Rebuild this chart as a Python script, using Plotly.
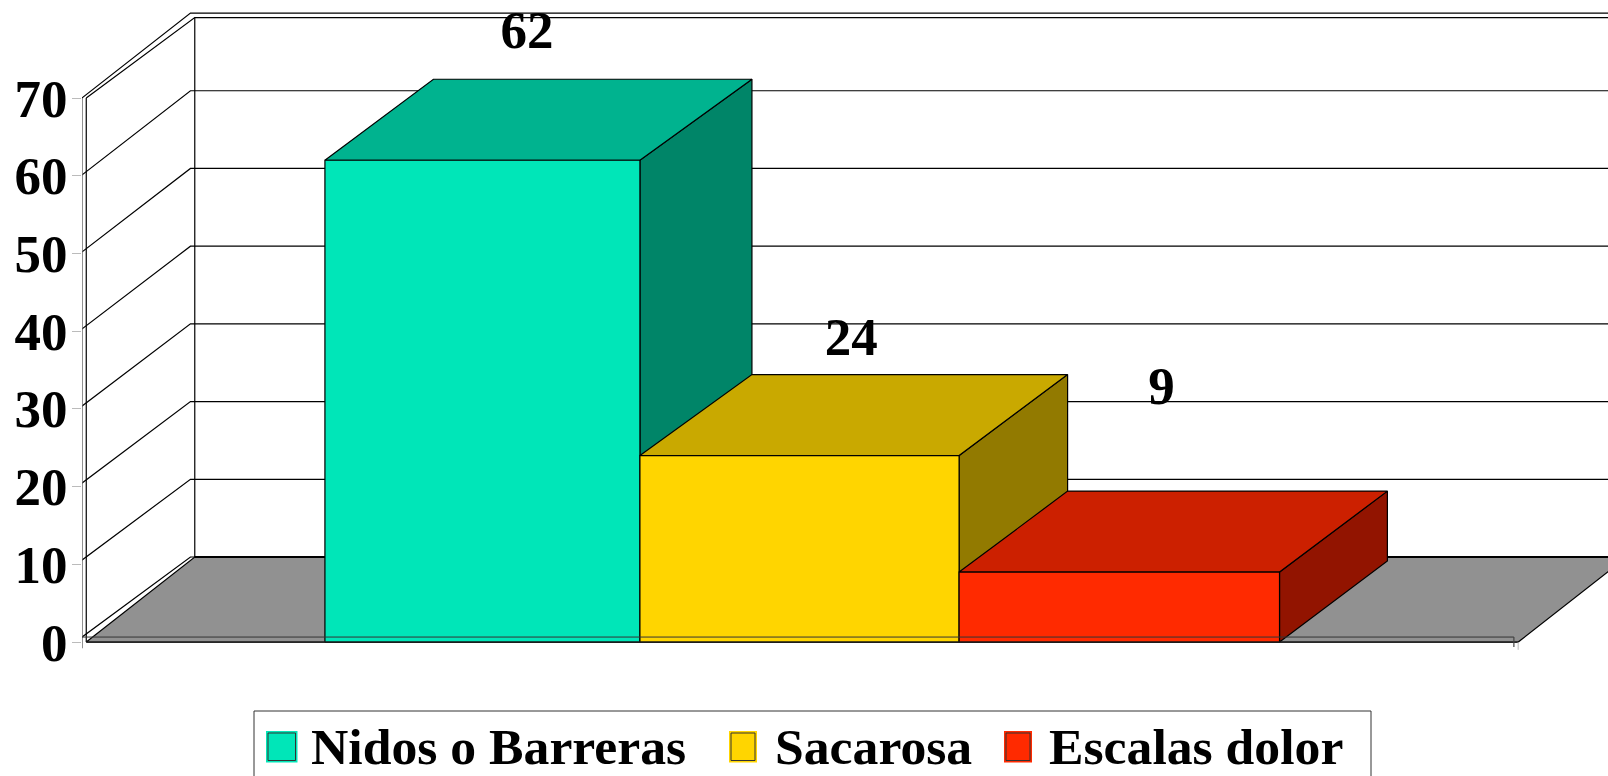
import plotly.graph_objects as go

categories = ['Nidos o Barreras', 'Sacarosa', 'Escalas dolor']
values = [62, 24, 9]
tick_values = [0, 10, 20, 30, 40, 50, 60, 70]
front_colors = ['#00E6B8', '#FFD500', '#FF2A00']
top_colors = ['#00B38F', '#C9A900', '#CC2000']
side_colors = ['#008568', '#927A00', '#921400']

W, H = 1608, 776
SERIF = 'Liberation Serif'
PLOT_LEFT = 82

# axis ranges: bars sit on a unit-spaced category scale, values on the y scale
X_RANGE = [-1.2634, 3.5323]
Y_RANGE = [-17.24, 82.62]

# fake 3d geometry, in axis units
BAR_EDGES = [-0.5, 0.49, 1.493, 2.5]  # the original slots are not quite even
DEPTH_LEFT = [0.341, 0.352, 0.341]
DEPTH_RIGHT = [0.352, 0.341, 0.339]
DEPTH_Y = 10.42
FLOOR_LEFT, FLOOR_RIGHT = -1.25, 3.25
FLOOR_DEPTH_X = 0.341
FLOOR_DEPTH_Y = 10.94
SHIFT_X = -0.0135  # second copy of the frame is a little up and left
TICK_X = -1.292
GRID_SCALE, GRID_BASE = 0.991, 0.64
TOP = tick_values[-1]
LABEL_SHIFT = [0.135, 0.154, 0.129]
LABEL_LIFT = [16.1, 14.7, 23.4]


def lines(fig, xs, ys, color='#000000', width=1.2):
    fig.add_trace(go.Scatter(x=xs, y=ys, mode='lines', cliponaxis=False,
                             line=dict(color=color, width=width), hoverinfo='skip', showlegend=False))


def poly(fig, xs, ys, fill, color='#000000', width=1.2):
    fig.add_trace(go.Scatter(x=xs, y=ys, mode='lines', fill='toself', fillcolor=fill,
                             line=dict(color=color, width=width), hoverinfo='skip', showlegend=False))


def px(x):
    return (x - PLOT_LEFT) / (W - PLOT_LEFT)


def py(y):
    return 1 - y / H


fig = go.Figure()
x_max = X_RANGE[1]
back_left = FLOOR_LEFT + FLOOR_DEPTH_X
grid_front = FLOOR_LEFT + SHIFT_X

# frame and gridlines
for v in tick_values:
    front = GRID_BASE + v * GRID_SCALE
    back = FLOOR_DEPTH_Y + v
    lines(fig, [TICK_X, grid_front, back_left + SHIFT_X, x_max], [front, front, back, back])
lines(fig, [FLOOR_LEFT, back_left, x_max], [TOP, TOP + FLOOR_DEPTH_Y - 0.58, TOP + FLOOR_DEPTH_Y - 0.58])
lines(fig, [back_left, back_left], [FLOOR_DEPTH_Y, TOP + FLOOR_DEPTH_Y - 0.58])
lines(fig, [grid_front, grid_front], [-0.8, TOP], color='#666666', width=1.5)
lines(fig, [FLOOR_LEFT, FLOOR_LEFT], [0, TOP])

# floor
poly(fig, [FLOOR_LEFT, back_left, FLOOR_RIGHT + FLOOR_DEPTH_X, FLOOR_RIGHT, FLOOR_LEFT],
     [0, FLOOR_DEPTH_Y, FLOOR_DEPTH_Y, 0, 0], '#919191')
lines(fig, [back_left, x_max], [FLOOR_DEPTH_Y, FLOOR_DEPTH_Y], width=2)

# bars, left to right so each one covers the hidden part of the previous one
for i, v in enumerate(values):
    x0, x1 = BAR_EDGES[i], BAR_EDGES[i + 1]
    dl, dr = DEPTH_LEFT[i], DEPTH_RIGHT[i]
    poly(fig, [x1, x1 + dr, x1 + dr, x1, x1], [0, DEPTH_Y, v + DEPTH_Y, v, 0], side_colors[i])
    poly(fig, [x0, x0 + dl, x1 + dr, x1, x0], [v, v + DEPTH_Y, v + DEPTH_Y, v, v], top_colors[i])
    poly(fig, [x0, x1, x1, x0, x0], [0, 0, v, v, 0], front_colors[i])

# second baseline shows through the bars
base2 = GRID_BASE
lines(fig, [grid_front, FLOOR_RIGHT + SHIFT_X], [base2, base2], color='#333333', width=1)
lines(fig, [FLOOR_LEFT, FLOOR_RIGHT], [0, 0], color='#222222')
lines(fig, [FLOOR_RIGHT + SHIFT_X, FLOOR_RIGHT + SHIFT_X], [base2, -0.65], color='#444444')
lines(fig, [FLOOR_RIGHT, FLOOR_RIGHT], [0, -1.0], color='#bbbbbb', width=1)

# value labels float above the bars
fig.add_trace(go.Scatter(
    x=[i + LABEL_SHIFT[i] for i in range(len(values))],
    y=[v + LABEL_LIFT[i] for i, v in enumerate(values)],
    mode='text', text=[str(v) for v in values], textposition='middle center', cliponaxis=False,
    textfont=dict(family=SERIF, size=53, color='#000000', weight='bold'),
    hoverinfo='skip', showlegend=False))

# legend box runs off the bottom of the picture, like the original
shapes = [dict(type='rect', xref='paper', yref='paper', x0=px(254), x1=px(1371), y0=py(790), y1=py(711),
               line=dict(color='#333333', width=1), fillcolor='#ffffff', layer='above')]
annotations = []
swatch_left = [266, 729, 1004]
swatch_right = [297.5, 757, 1032]
text_left = [311, 775, 1049]
for i, name in enumerate(categories):
    shapes.append(dict(type='rect', xref='paper', yref='paper', x0=px(swatch_left[i]), x1=px(swatch_right[i]),
                       y0=py(762.5), y1=py(731), line=dict(width=0), fillcolor=front_colors[i], layer='above'))
    shapes.append(dict(type='rect', xref='paper', yref='paper', x0=px(swatch_left[i] + 2), x1=px(swatch_right[i] - 2),
                       y0=py(760.5), y1=py(733), line=dict(color='#333333', width=1), fillcolor=front_colors[i], layer='above'))
    annotations.append(dict(text=name, xref='paper', yref='paper', x=px(text_left[i]), y=py(746),
                            xanchor='left', yanchor='middle', showarrow=False, xshift=-2,
                            font=dict(family=SERIF, size=51.7, color='#000000', weight='bold')))

fig.update_layout(
    width=W, height=H, autosize=False,
    margin=dict(l=PLOT_LEFT, r=0, t=0, b=0, pad=0),
    paper_bgcolor='#ffffff', plot_bgcolor='#ffffff',
    showlegend=False, shapes=shapes, annotations=annotations,
    xaxis=dict(range=X_RANGE, visible=False, fixedrange=True),
    yaxis=dict(range=Y_RANGE, tickmode='array', tickvals=tick_values, ticks='outside', ticklen=9,
               tickcolor='#bbbbbb', tickwidth=1, showgrid=False, zeroline=False, showline=False,
               fixedrange=True, ticklabelstandoff=-6,
               tickfont=dict(family=SERIF, size=53, color='#000000', weight='bold')),
)

fig.write_html("out.html", config=dict(displayModeBar=False),
               post_script="document.body.style.margin='0';document.body.style.overflow='hidden';")
